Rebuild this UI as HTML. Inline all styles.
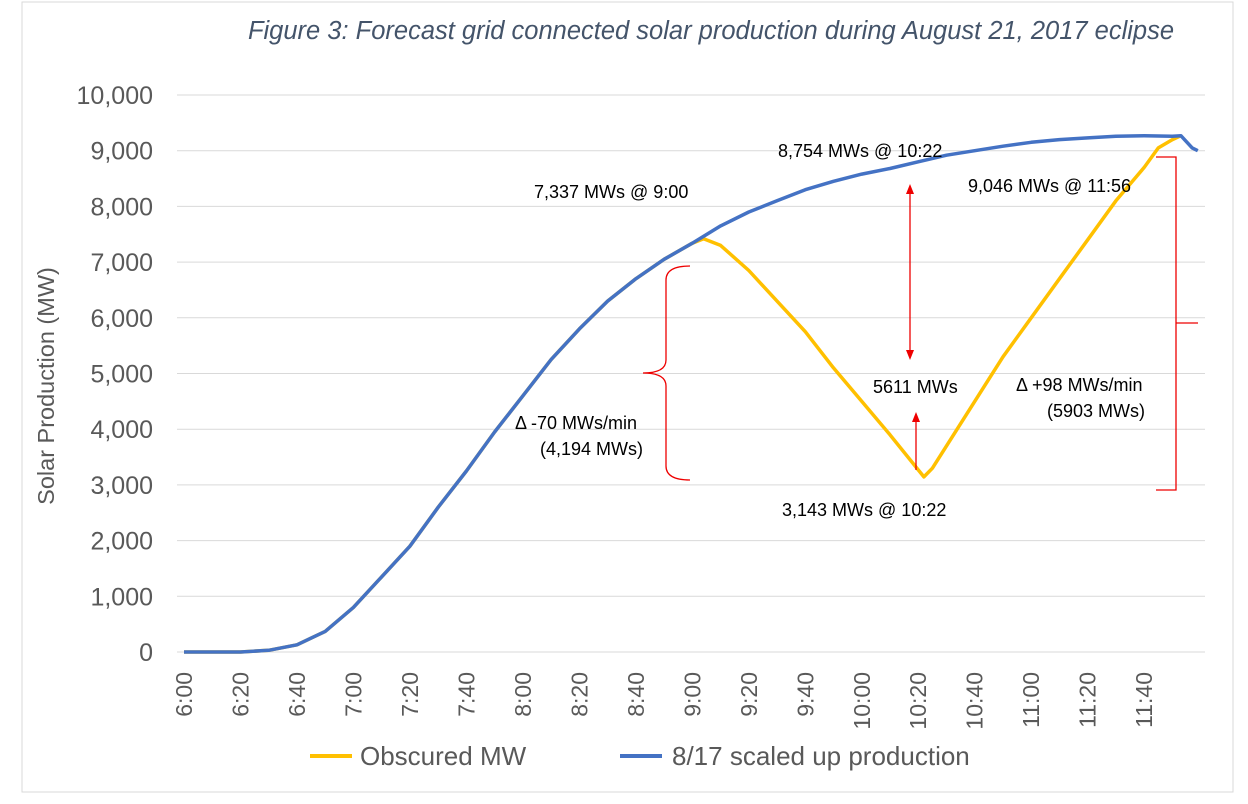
<!DOCTYPE html>
<html><head><meta charset="utf-8"><style>
body{margin:0;background:#fff;}
svg{display:block;font-family:"Liberation Sans",Arial,sans-serif;}
</style></head><body>
<svg id="chart" width="1248" height="804">
<rect x="22" y="2" width="1211" height="790" fill="#fff" stroke="#d9d9d9"/>
<text x="711" y="39" text-anchor="middle" font-size="25.5" font-style="italic" fill="#44546a">Figure 3: Forecast grid connected solar production during August 21, 2017 eclipse</text>
<text transform="translate(54,386) rotate(-90)" text-anchor="middle" font-size="23.5" fill="#595959">Solar Production (MW)</text>
<g id="grid"></g><g id="yticks"></g><g id="xticks"></g><g id="series"></g>
<g id="annot" font-size="18" fill="#000">
<text x="534" y="198">7,337 MWs @ 9:00</text>
<text x="778" y="157">8,754 MWs @ 10:22</text>
<text x="968" y="192">9,046 MWs @ 11:56</text>
<text x="873" y="393">5611 MWs</text>
<text x="782" y="516">3,143 MWs @ 10:22</text>
<text x="515" y="429">Δ -70 MWs/min</text>
<text x="540" y="455">(4,194 MWs)</text>
<text x="1016" y="391">Δ  +98 MWs/min</text>
<text x="1047" y="417">(5903 MWs)</text>
</g>
<g stroke="#e00" stroke-width="1.3" fill="none">
<path d="M690,266 Q666,266 666,280 L666,360 Q666,373 643,373 Q666,373 666,386 L666,466 Q666,480 690,480"/>
<path d="M1156,157 L1176,157 L1176,490 L1156,490 M1176,323 L1198,323"/>
<line x1="910" y1="192" x2="910" y2="352"/>
<line x1="916" y1="420" x2="916" y2="470"/>
</g>
<g fill="#e00">
<polygon points="910,184 906,194 914,194"/><polygon points="910,360 906,350 914,350"/>
<polygon points="916,412 912,422 920,422"/>
</g>
<g font-size="26" fill="#595959">
<line x1="310" y1="756" x2="352" y2="756" stroke="#ffc000" stroke-width="4"/>
<text x="360" y="765">Obscured MW</text>
<line x1="620" y1="756" x2="662" y2="756" stroke="#4472c4" stroke-width="4"/>
<text x="672" y="765">8/17 scaled up production</text>
</g>
</svg>
<script>
const yTicks=[0,1000,2000,3000,4000,5000,6000,7000,8000,9000,10000];
const xTickLabels=["6:00","6:20","6:40","7:00","7:20","7:40","8:00","8:20","8:40","9:00","9:20","9:40","10:00","10:20","10:40","11:00","11:20","11:40"];
const blueMin=[0,20,30,40,50,60,70,80,90,100,110,120,130,140,150,160,170,180,190,200,210,220,230,240,250,260,270,280,290,300,310,320,330,340,350,353,357,359];
const blueVal=[0,0,30,130,370,800,1350,1900,2600,3250,3950,4600,5250,5800,6300,6700,7050,7340,7650,7900,8100,8300,8450,8580,8680,8800,8920,9000,9080,9150,9200,9230,9260,9270,9260,9270,9050,9000];
const yelMin=[0,20,30,40,50,60,70,80,90,100,110,120,130,140,150,160,170,180,184,190,200,210,220,230,240,250,262,265,270,280,290,300,310,320,330,340,345,350,353];
const yelVal=[0,0,30,130,370,800,1350,1900,2600,3250,3950,4600,5250,5800,6300,6700,7050,7340,7420,7300,6850,6300,5750,5100,4500,3900,3143,3300,3700,4500,5300,6000,6700,7400,8100,8700,9050,9200,9270];
const NS="http://www.w3.org/2000/svg";
const X=m=>184+m*2.824, Y=v=>652-v*0.0557;
function mk(t,a,p){const e=document.createElementNS(NS,t);for(const k in a)e.setAttribute(k,a[k]);document.getElementById(p).appendChild(e);return e;}
yTicks.forEach(v=>{
 const g=mk('line',{x1:177,x2:1205,y1:Y(v),y2:Y(v),stroke:'#d9d9d9','stroke-width':1},'grid');
 
 
 const t=mk('text',{x:153,y:Y(v)+9,'text-anchor':'end','font-size':25,fill:'#595959'},'yticks');
 t.textContent=v.toLocaleString('en-US');
 
 
});
xTickLabels.forEach((s,i)=>{
 const x=X(i*20);
 const t=mk('text',{transform:`translate(${x+8},672) rotate(-90)`,'text-anchor':'end','font-size':23,fill:'#595959'},'xticks');
 t.textContent=s;
 
 
});
function line(ms,vs,c,name){
 const d=ms.map((m,i)=>(i?'L':'M')+X(m).toFixed(1)+','+Y(vs[i]).toFixed(1)).join('');
 const p=mk('path',{d:d,stroke:c,'stroke-width':3.5,fill:'none','stroke-linejoin':'round'},'series');
 
 
}
line(yelMin,yelVal,'#ffc000','obscured-mw-line');
line(blueMin,blueVal,'#4472c4','scaled-production-line');
</script>
</body></html>
